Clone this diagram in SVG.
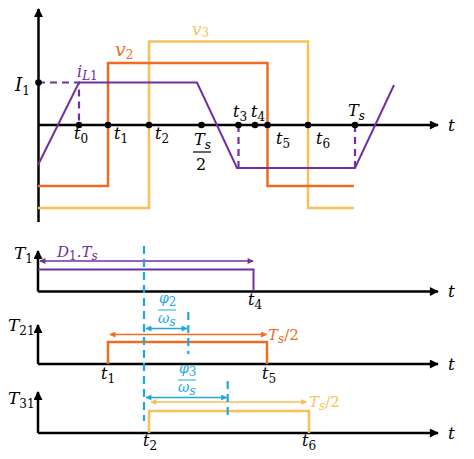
<svg xmlns="http://www.w3.org/2000/svg" width="474" height="459" viewBox="0 0 474 459">
<defs>
<marker id="ab" viewBox="0 0 10 10" refX="9" refY="5" markerWidth="10" markerHeight="9" markerUnits="userSpaceOnUse" orient="auto"><path d="M0,0 L10,5 L0,10 Z" fill="#000"/></marker>
<marker id="ap" viewBox="0 0 10 10" refX="9" refY="5" markerWidth="7" markerHeight="6" markerUnits="userSpaceOnUse" orient="auto-start-reverse"><path d="M0,0 L10,5 L0,10 Z" fill="#7030A0"/></marker>
<marker id="ao" viewBox="0 0 10 10" refX="9" refY="5" markerWidth="7" markerHeight="6" markerUnits="userSpaceOnUse" orient="auto-start-reverse"><path d="M0,0 L10,5 L0,10 Z" fill="#ED6C22"/></marker>
<marker id="ay" viewBox="0 0 10 10" refX="9" refY="5" markerWidth="7" markerHeight="6" markerUnits="userSpaceOnUse" orient="auto-start-reverse"><path d="M0,0 L10,5 L0,10 Z" fill="#F7C15A"/></marker>
<marker id="ac" viewBox="0 0 10 10" refX="9" refY="5" markerWidth="7" markerHeight="6" markerUnits="userSpaceOnUse" orient="auto-start-reverse"><path d="M0,0 L10,5 L0,10 Z" fill="#1FA8E0"/></marker>
</defs>
<style>
.ax{stroke:#000;stroke-width:2.5;fill:none}
.pu{stroke:#7030A0;stroke-width:2;fill:none}
.pd{stroke:#7030A0;stroke-width:2.2;fill:none;stroke-dasharray:7,5}
.or{stroke:#ED6C22;stroke-width:2.5;fill:none}
.ye{stroke:#F7C15A;stroke-width:2.5;fill:none}
.bl{stroke:#1FA8E0;stroke-width:2.2;fill:none;stroke-dasharray:8,5}
.tx{font-family:"DejaVu Serif","Liberation Serif",serif;font-style:italic;font-size:16px;fill:#000}
.sb{font-size:12px}
.n{font-style:normal}
.cp{fill:#7030A0}.co{fill:#ED6C22}.cy{fill:#F4C45E}.cb{fill:#1FA8E0}
</style>
<g id="connectors">
<line class="ax" x1="38.5" y1="222" x2="38.5" y2="9" marker-end="url(#ab)"/>
<line class="ax" x1="38" y1="125" x2="438" y2="125" marker-end="url(#ab)"/>
<polyline class="ye" points="38,208 149,208 149,41.5 308,41.5 308,208 354,208"/>
<polyline class="or" points="38,186 108,186 108,63 267.5,63 267.5,186 354,186"/>
<polyline class="pu" points="38,165 79,82.5 197,82.5 237,168 355,168 394,85"/>
<polyline class="pd" points="38,82.5 79,82.5 79,125"/>
<line class="pd" x1="238.5" y1="125" x2="238.5" y2="168"/>
<line class="pd" x1="355" y1="125" x2="355" y2="168"/>
<g fill="#000">
<circle cx="38.5" cy="82.5" r="3.3"/><circle cx="79" cy="125" r="3.3"/><circle cx="108" cy="125" r="3.3"/><circle cx="149" cy="125" r="3.3"/><circle cx="201.5" cy="125" r="3.3"/><circle cx="238.5" cy="125" r="3.3"/><circle cx="255" cy="125" r="3.3"/><circle cx="267.5" cy="125" r="3.3"/><circle cx="308" cy="125" r="3.3"/><circle cx="355" cy="125" r="3.3"/>
</g>
<line class="ax" x1="38" y1="291.5" x2="38" y2="251" marker-end="url(#ab)"/>
<line class="ax" x1="38" y1="291.5" x2="438" y2="291.5" marker-end="url(#ab)"/>
<polyline class="pu" points="38,269.5 253.5,269.5 253.5,291"/>
<line stroke="#7030A0" stroke-width="1.5" x1="40" y1="261" x2="253" y2="261" marker-start="url(#ap)" marker-end="url(#ap)"/>
<line class="ax" x1="38" y1="364" x2="38" y2="325" marker-end="url(#ab)"/>
<line class="ax" x1="38" y1="364" x2="438" y2="364" marker-end="url(#ab)"/>
<polyline class="or" stroke-width="2" points="108,364 108,342 267,342 267,364"/>
<line stroke="#ED6C22" stroke-width="1.5" x1="110" y1="334.5" x2="266.5" y2="334.5" marker-start="url(#ao)" marker-end="url(#ao)"/>
<line class="ax" x1="38" y1="433" x2="38" y2="392" marker-end="url(#ab)"/>
<line class="ax" x1="38" y1="433" x2="438" y2="433" marker-end="url(#ab)"/>
<polyline class="ye" stroke-width="2" points="149,433 149,411 309,411 309,433"/>
<line stroke="#F7C15A" stroke-width="1.5" x1="151" y1="402" x2="306.5" y2="402" marker-start="url(#ay)" marker-end="url(#ay)"/>
<line class="bl" x1="144" y1="246" x2="144" y2="421"/>
<line class="bl" x1="188.3" y1="312" x2="188.3" y2="354"/>
<line class="bl" x1="227.7" y1="381" x2="227.7" y2="418"/>
<line stroke="#1FA8E0" stroke-width="1.5" x1="146" y1="328.5" x2="187" y2="328.5" marker-start="url(#ac)" marker-end="url(#ac)"/>
<line stroke="#1FA8E0" stroke-width="1.5" x1="146" y1="397.5" x2="226.5" y2="397.5" marker-start="url(#ac)" marker-end="url(#ac)"/>
<line stroke="#1FA8E0" stroke-width="1" x1="158" y1="310" x2="176" y2="310"/>
<line stroke="#1FA8E0" stroke-width="1" x1="178" y1="380" x2="196" y2="380"/>
<line stroke="#000" stroke-width="1.2" x1="193" y1="152" x2="211" y2="152"/>
</g>
<g id="labels" class="tx">
<text x="15" y="91" font-size="18">I<tspan class="sb n" font-size="13" dy="4">1</tspan></text>
<text x="77" y="77" class="cp">i<tspan class="sb" dy="3">L</tspan><tspan class="sb n">1</tspan></text>
<text x="115" y="56" class="co" font-size="19">v<tspan class="sb n" font-size="14" dy="3">2</tspan></text>
<text x="192" y="35" class="cy" font-size="17">v<tspan class="sb n" font-size="13" dy="2">3</tspan></text>
<text x="74" y="139">t<tspan class="sb n" dy="4">0</tspan></text>
<text x="114" y="139">t<tspan class="sb n" dy="4">1</tspan></text>
<text x="155" y="139">t<tspan class="sb n" dy="4">2</tspan></text>
<text x="194" y="145">T<tspan class="sb" dy="4">s</tspan></text>
<text x="196" y="170" class="n">2</text>
<text x="233" y="117">t<tspan class="sb n" dy="4">3</tspan></text>
<text x="251" y="117">t<tspan class="sb n" dy="4">4</tspan></text>
<text x="276" y="144">t<tspan class="sb n" dy="4">5</tspan></text>
<text x="316" y="144">t<tspan class="sb n" dy="4">6</tspan></text>
<text x="348" y="116">T<tspan class="sb" dy="4">s</tspan></text>
<text x="448" y="131" font-size="17">t</text>
<text x="14" y="259" font-size="17">T<tspan class="sb n" dy="4">1</tspan></text>
<text x="57" y="257" class="cp" font-size="15">D<tspan class="sb n" font-size="11" dy="3">1</tspan><tspan dy="-3">.T</tspan><tspan class="sb" font-size="11" dy="3">s</tspan></text>
<text x="248" y="305">t<tspan class="sb n" dy="4">4</tspan></text>
<text x="448" y="297" font-size="17">t</text>
<text x="159" y="303" class="cb" font-size="14">φ<tspan class="sb n" font-size="10" dy="3">2</tspan></text>
<text x="158" y="323" class="cb" font-size="14">ω<tspan class="sb" font-size="10" dy="3">s</tspan></text>
<text x="8" y="331" font-size="17">T<tspan class="sb n" font-size="11" dy="4">21</tspan></text>
<text x="268" y="340" class="co" font-size="15">T<tspan class="sb" font-size="11" dy="3">s</tspan><tspan dy="-3" class="n">/2</tspan></text>
<text x="101" y="379">t<tspan class="sb n" dy="4">1</tspan></text>
<text x="262" y="379">t<tspan class="sb n" dy="4">5</tspan></text>
<text x="448" y="370" font-size="17">t</text>
<text x="179" y="373" class="cb" font-size="14">φ<tspan class="sb n" font-size="10" dy="3">3</tspan></text>
<text x="178" y="392" class="cb" font-size="14">ω<tspan class="sb" font-size="10" dy="3">s</tspan></text>
<text x="8" y="404" font-size="17">T<tspan class="sb n" font-size="11" dy="4">31</tspan></text>
<text x="309" y="407" class="cy" font-size="15">T<tspan class="sb" font-size="11" dy="3">s</tspan><tspan dy="-3" class="n">/2</tspan></text>
<text x="143" y="446">t<tspan class="sb n" dy="4">2</tspan></text>
<text x="302" y="446">t<tspan class="sb n" dy="4">6</tspan></text>
<text x="448" y="439" font-size="17">t</text>
</g>
</svg>
